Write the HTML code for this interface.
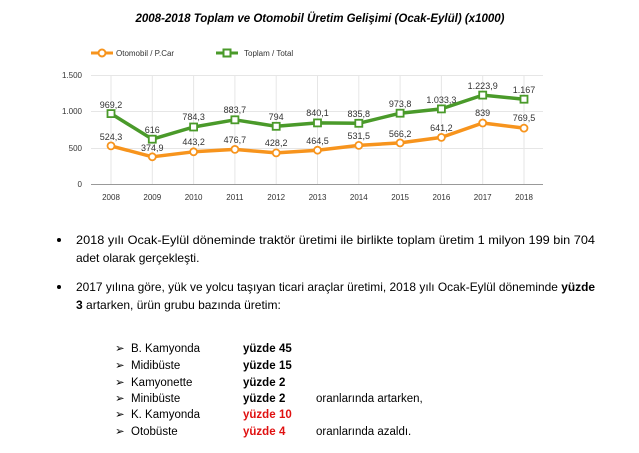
<!DOCTYPE html>
<html><head><meta charset="utf-8"><style>body{margin:0;background:#fff}svg{display:block}</style></head><body>
<svg width="639" height="453" xmlns="http://www.w3.org/2000/svg" font-family="Liberation Sans, sans-serif">
<text x="320" y="22" text-anchor="middle" font-size="11.5" font-weight="bold" font-style="italic">2008-2018 Toplam ve Otomobil Üretim Gelişimi (Ocak-Eylül) (x1000)</text>
<line x1="91" y1="53" x2="113" y2="53" stroke="#f7941d" stroke-width="3"/><circle cx="102" cy="53" r="3.5" fill="#fff" stroke="#f7941d" stroke-width="2"/>
<text x="116" y="56" font-size="8" fill="#333">Otomobil / P.Car</text>
<line x1="216" y1="53" x2="238" y2="53" stroke="#4a9a2a" stroke-width="3"/><rect x="223.5" y="49.5" width="7" height="7" fill="#fff" stroke="#4a9a2a" stroke-width="2"/>
<text x="244" y="56" font-size="8" fill="#333">Toplam / Total</text>
<g stroke="#e6e6e6" stroke-width="1">
<line x1="91" y1="75.5" x2="543" y2="75.5"/><line x1="91" y1="111.5" x2="543" y2="111.5"/><line x1="91" y1="148.5" x2="543" y2="148.5"/>
<line x1="111" y1="75" x2="111" y2="184"/><line x1="152.3" y1="75" x2="152.3" y2="184"/><line x1="193.6" y1="75" x2="193.6" y2="184"/><line x1="234.9" y1="75" x2="234.9" y2="184"/><line x1="276.2" y1="75" x2="276.2" y2="184"/><line x1="317.5" y1="75" x2="317.5" y2="184"/><line x1="358.8" y1="75" x2="358.8" y2="184"/><line x1="400.1" y1="75" x2="400.1" y2="184"/><line x1="441.4" y1="75" x2="441.4" y2="184"/><line x1="482.7" y1="75" x2="482.7" y2="184"/><line x1="524" y1="75" x2="524" y2="184"/>
</g>
<line x1="91" y1="184.5" x2="543" y2="184.5" stroke="#999"/>
<g font-size="8" fill="#333" text-anchor="end">
<text x="82" y="78">1.500</text><text x="82" y="114">1.000</text><text x="82" y="151">500</text><text x="82" y="187">0</text>
</g>
<g font-size="8" fill="#333" text-anchor="middle">
<text x="111" y="200">2008</text><text x="152.3" y="200">2009</text><text x="193.6" y="200">2010</text><text x="234.9" y="200">2011</text><text x="276.2" y="200">2012</text><text x="317.5" y="200">2013</text><text x="358.8" y="200">2014</text><text x="400.1" y="200">2015</text><text x="441.4" y="200">2016</text><text x="482.7" y="200">2017</text><text x="524" y="200">2018</text>
</g>
<polyline fill="none" stroke="#f7941d" stroke-width="3.5" stroke-linejoin="round" points="111,145.9 152.3,156.8 193.6,151.8 234.9,149.4 276.2,152.9 317.5,150.2 358.8,145.4 400.1,142.9 441.4,137.4 482.7,123 524,128.1"/>
<polyline fill="none" stroke="#4a9a2a" stroke-width="3.5" stroke-linejoin="round" points="111,113.6 152.3,139.2 193.6,127 234.9,119.8 276.2,126.3 317.5,122.9 358.8,123.3 400.1,113.2 441.4,108.9 482.7,95.1 524,99.2"/>
<g fill="#fff" stroke="#f7941d" stroke-width="1.8">
<circle cx="111" cy="145.9" r="3.5"/><circle cx="152.3" cy="156.8" r="3.5"/><circle cx="193.6" cy="151.8" r="3.5"/><circle cx="234.9" cy="149.4" r="3.5"/><circle cx="276.2" cy="152.9" r="3.5"/><circle cx="317.5" cy="150.2" r="3.5"/><circle cx="358.8" cy="145.4" r="3.5"/><circle cx="400.1" cy="142.9" r="3.5"/><circle cx="441.4" cy="137.4" r="3.5"/><circle cx="482.7" cy="123" r="3.5"/><circle cx="524" cy="128.1" r="3.5"/>
</g>
<g fill="#fff" stroke="#4a9a2a" stroke-width="1.8">
<rect x="107.5" y="110.1" width="7" height="7"/><rect x="148.8" y="135.7" width="7" height="7"/><rect x="190.1" y="123.5" width="7" height="7"/><rect x="231.4" y="116.3" width="7" height="7"/><rect x="272.7" y="122.8" width="7" height="7"/><rect x="314" y="119.4" width="7" height="7"/><rect x="355.3" y="119.8" width="7" height="7"/><rect x="396.6" y="109.7" width="7" height="7"/><rect x="437.9" y="105.4" width="7" height="7"/><rect x="479.2" y="91.6" width="7" height="7"/><rect x="520.5" y="95.7" width="7" height="7"/>
</g>
<g font-size="9" fill="#333" text-anchor="middle">
<text x="111" y="108">969,2</text><text x="152.3" y="133">616</text><text x="193.6" y="120">784,3</text><text x="234.9" y="113">883,7</text><text x="276.2" y="120">794</text><text x="317.5" y="116">840,1</text><text x="358.8" y="117">835,8</text><text x="400.1" y="107">973,8</text><text x="441.4" y="103">1.033,3</text><text x="482.7" y="89">1.223,9</text><text x="524" y="93">1.167</text>
<text x="111" y="140">524,3</text><text x="152.3" y="151">374,9</text><text x="193.6" y="145">443,2</text><text x="234.9" y="143">476,7</text><text x="276.2" y="146">428,2</text><text x="317.5" y="144">464,5</text><text x="358.8" y="139">531,5</text><text x="400.1" y="137">566,2</text><text x="441.4" y="131">641,2</text><text x="482.7" y="116">839</text><text x="524" y="121">769,5</text>
</g>
<g font-size="12" fill="#000">
<circle cx="59" cy="240" r="2" fill="#000"/>
<text x="76" y="244" textLength="519" lengthAdjust="spacingAndGlyphs">2018 yılı Ocak-Eylül döneminde traktör üretimi ile birlikte toplam üretim 1 milyon 199 bin 704</text>
<text x="76" y="262">adet olarak gerçekleşti.</text>
<circle cx="59" cy="287" r="2" fill="#000"/>
<text x="76" y="291" textLength="519" lengthAdjust="spacingAndGlyphs">2017 yılına göre, yük ve yolcu taşıyan ticari araçlar üretimi, 2018 yılı Ocak-Eylül döneminde <tspan font-weight="bold">yüzde</tspan></text>
<text x="76" y="309"><tspan font-weight="bold">3</tspan> artarken, ürün grubu bazında üretim:</text>
<g font-size="11.5">
<text x="115" y="352">➢</text><text x="131" y="352">B. Kamyonda</text><text x="243" y="352" font-weight="bold">yüzde</text><text x="279" y="352" font-weight="bold">45</text>
<text x="115" y="369">➢</text><text x="131" y="369">Midibüste</text><text x="243" y="369" font-weight="bold">yüzde</text><text x="279" y="369" font-weight="bold">15</text>
<text x="115" y="386">➢</text><text x="131" y="386">Kamyonette</text><text x="243" y="386" font-weight="bold">yüzde</text><text x="279" y="386" font-weight="bold">2</text>
<text x="115" y="402">➢</text><text x="131" y="402">Minibüste</text><text x="243" y="402" font-weight="bold">yüzde</text><text x="279" y="402" font-weight="bold">2</text><text x="316" y="402">oranlarında artarken,</text>
<text x="115" y="418">➢</text><text x="131" y="418">K. Kamyonda</text><text x="243" y="418" font-weight="bold" fill="#e01010">yüzde</text><text x="279" y="418" font-weight="bold" fill="#e01010">10</text>
<text x="115" y="435">➢</text><text x="131" y="435">Otobüste</text><text x="243" y="435" font-weight="bold" fill="#e01010">yüzde</text><text x="279" y="435" font-weight="bold" fill="#e01010">4</text><text x="316" y="435">oranlarında azaldı.</text>
</g>
</g>
</svg>
</body></html>
